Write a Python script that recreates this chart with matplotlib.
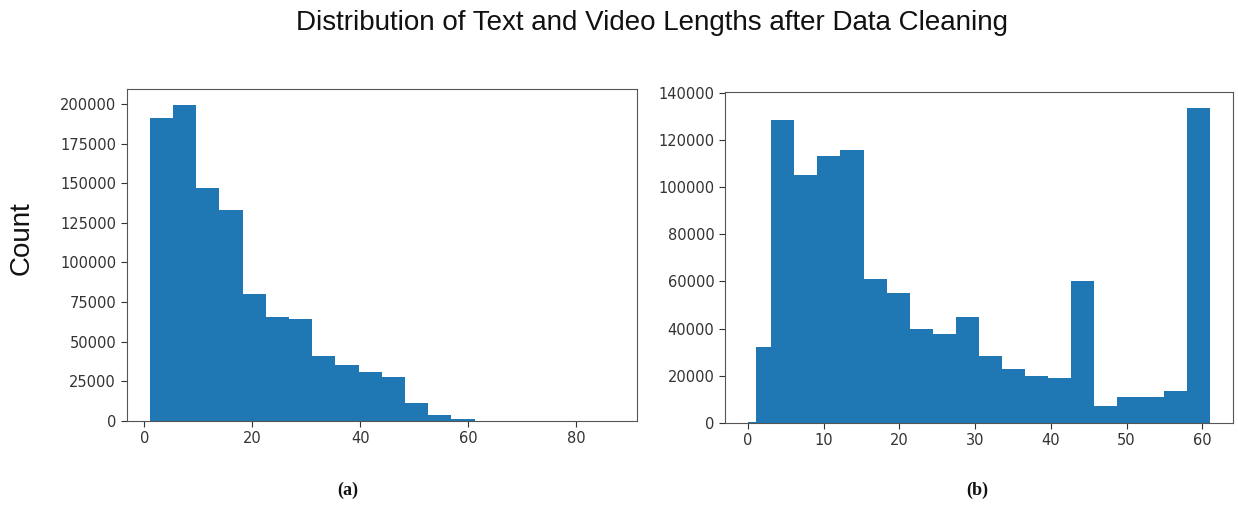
import matplotlib
matplotlib.use("Agg")
import matplotlib.pyplot as plt
import numpy as np

# ---- data ----
text_bin_edges = [1.0, 5.3, 9.6, 13.9, 18.2, 22.5, 26.8, 31.1, 35.4, 39.7, 44.0,
                  48.3, 52.6, 56.9, 61.2, 65.5, 69.8, 74.1, 78.4, 82.7, 87.0]
text_counts = [191000, 199500, 147000, 133000, 80000, 65500, 64500, 41000, 35500,
               31000, 28000, 11500, 4000, 1100, 250, 80, 30, 10, 5, 2]

video_bin_edges = [0.0, 1.0, 3.05, 6.1, 9.15, 12.2, 15.25, 18.3, 21.35, 24.4, 27.45,
                   30.5, 33.55, 36.6, 39.65, 42.7, 45.75, 48.8, 51.85, 54.9, 57.95, 61.0]
video_counts = [400, 32000, 128500, 105000, 113000, 115500, 61000, 55000, 40000, 37500,
                45000, 28300, 23000, 20000, 19200, 60000, 7100, 10900, 10900, 13400, 133600]

title = "Distribution of Text and Video Lengths after Data Cleaning"
ylabel = "Count"
panel_labels = ["(a)", "(b)"]

BAR = "#1f77b4"
TXT = "#333333"
SPINE = "#555555"

fig = plt.figure(figsize=(12.38, 5.07), dpi=100)
ax1 = fig.add_axes([0.1022, 0.1696, 0.4124, 0.655])
ax2 = fig.add_axes([0.5856, 0.1657, 0.4103, 0.653])

for ax, edges, counts in ((ax1, text_bin_edges, text_counts),
                          (ax2, video_bin_edges, video_counts)):
    edges = np.asarray(edges)
    ax.hist(edges[:-1], bins=edges, weights=counts, color=BAR)
    ax.tick_params(labelsize=10.5, colors=TXT, length=4)
    for s in ax.spines.values():
        s.set_color(SPINE)

ax1.set_yticks(np.arange(0, 200001, 25000))
ax1.set_xticks([0, 20, 40, 60, 80])
ax2.set_yticks(np.arange(0, 140001, 20000))
ax2.set_xticks([0, 10, 20, 30, 40, 50, 60])

fig.text(0.5263, 0.941, title, ha="center", va="baseline",
         fontsize=20, family="Liberation Sans", color="#111111")
fig.text(0.0178, 0.530, ylabel, ha="center", va="center", rotation=90,
         fontsize=20, family="Liberation Sans", color="#111111")
fig.text(0.281, 0.032, panel_labels[0], ha="center", va="center",
         fontsize=13, family="Liberation Serif", weight="bold", color="#111111")
fig.text(0.789, 0.032, panel_labels[1], ha="center", va="center",
         fontsize=13, family="Liberation Serif", weight="bold", color="#111111")

fig.savefig("out.png", dpi=100)
